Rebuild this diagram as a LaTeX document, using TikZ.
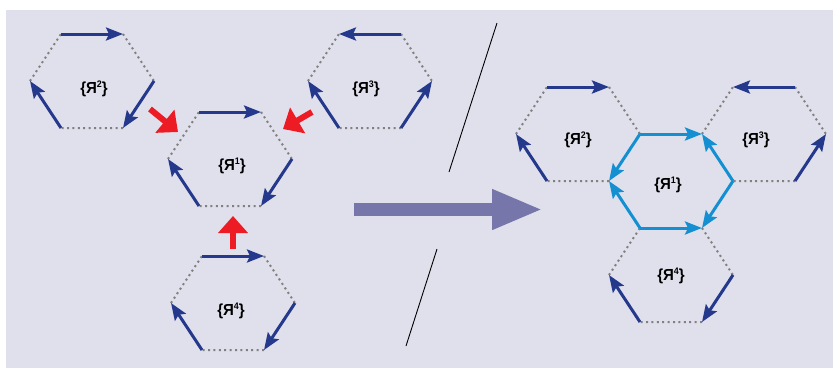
\documentclass[tikz,border=0pt]{standalone}
\usepackage{fontspec}
\setmainfont{Liberation Sans}
\newfontfamily\celllabelfont[FakeStretch=0.94]{Liberation Sans Bold}
\usetikzlibrary{arrows.meta}

\definecolor{panelbg}{RGB}{224,224,236}
\definecolor{sidegray}{RGB}{128,128,128}
\definecolor{spinblue}{RGB}{36,56,140}
\definecolor{bondblue}{RGB}{20,144,210}
\definecolor{pushred}{RGB}{237,28,36}
\definecolor{flowgray}{RGB}{118,118,171}

\newcommand\ysup[1]{\raisebox{5.5pt}{\fontsize{9.5}{9.5}\selectfont #1}}

\begin{document}
\begin{tikzpicture}[x=1pt,y=-1pt,
  dotedge/.style={draw=sidegray,line width=2pt,dash pattern=on 2pt off 3.4pt},
  spinarrow/.style={draw=spinblue,line width=3pt,%
    -{Stealth[length=17pt,width=13pt,inset=3pt]}},
  bondarrow/.style={spinarrow,draw=bondblue},
  pusharrow/.style={draw=pushred,line width=6pt,-{Triangle[length=17pt,width=29pt]}},
  flowarrow/.style={draw=flowgray,line width=13pt,-{Triangle[length=51pt,width=37pt]}},
  slash/.style={draw=black,line width=0.9pt},
  hexlabel/.style={font=\celllabelfont\fontsize{16}{17}\selectfont,inner sep=0pt}]

  \useasboundingbox (0,0) rectangle (833,368);
  \fill[panelbg] (6,10) rectangle (833,368);

  % corners of the cells
  \foreach \h/\x/\y in {a1/230/159, a2/92/81, a3/370/81, a4/233/303,
                        b1/671/181, b2/578/134, b3/764/134, b4/671/275}
    \path[shift={(\x,\y)}] (-31,-47) coordinate (\h-tl) (31,-47) coordinate (\h-tr)
      (62,0) coordinate (\h-r) (31,47) coordinate (\h-br)
      (-31,47) coordinate (\h-bl) (-62,0) coordinate (\h-l);

  % dotted sides
  \foreach \h in {a1,a2,a3,a4,b2,b3,b4}
    \draw[dotedge] (\h-tr) -- (\h-r) (\h-br) -- (\h-bl) (\h-l) -- (\h-tl);

  % spins, left group
  \foreach \h/\ta/\tb/\ra/\rb in {a1/tl/tr/r/br, a2/tl/tr/r/br,
                                  a3/tr/tl/br/r, a4/tl/tr/r/br}
  {
    \draw[spinarrow] (\h-\ta) -- (\h-\tb);
    \draw[spinarrow] (\h-\ra) -- (\h-\rb);
    \draw[spinarrow] (\h-bl) -- (\h-l);
  }

  % spins, right group
  \draw[spinarrow] (b2-tl) -- (b2-tr);
  \draw[spinarrow] (b2-bl) -- (b2-l);
  \draw[spinarrow] (b3-tr) -- (b3-tl);
  \draw[spinarrow] (b3-br) -- (b3-r);
  \draw[spinarrow] (b4-bl) -- (b4-l);
  \draw[spinarrow] (b4-r) -- (b4-br);
  \foreach \s/\e in {tl/tr, bl/br, tl/l, bl/l, r/tr, r/br}
    \draw[bondarrow] (b1-\s) -- (b1-\e);

  % labels
  \node[hexlabel] (a1-name) at (232,166) {\{Я\ysup{1}\}};
  \node[hexlabel] (a2-name) at (94,89) {\{Я\ysup{2}\}};
  \node[hexlabel] (a3-name) at (366,89) {\{Я\ysup{3}\}};
  \node[hexlabel] (a4-name) at (231,311) {\{Я\ysup{4}\}};
  \node[hexlabel] (b1-name) at (668,185) {\{Я\ysup{1}\}};
  \node[hexlabel] (b2-name) at (578,140) {\{Я\ysup{2}\}};
  \node[hexlabel] (b3-name) at (756,140) {\{Я\ysup{3}\}};
  \node[hexlabel] (b4-name) at (671,276) {\{Я\ysup{4}\}};

  % red pushes towards the middle cell
  \coordinate (push2) at (150,109);
  \coordinate (push3) at (312,112);
  \coordinate (push4) at (233,249);
  \coordinate (a1-in2) at (178,132);
  \coordinate (a1-in3) at (283,129);
  \coordinate (a1-in4) at (233,216);
  \draw[pusharrow] (push2) -- (a1-in2);
  \draw[pusharrow] (push3) -- (a1-in3);
  \draw[pusharrow] (push4) -- (a1-in4);

  % big arrow
  \coordinate (flow-s) at (354,209.5);
  \coordinate (flow-e) at (543,209.5);
  \draw[flowarrow] (flow-s) -- (flow-e);

  % slashes
  \draw[slash] (497,23) -- (449,172);
  \draw[slash] (437,249) -- (406,346);
\end{tikzpicture}
\end{document}
